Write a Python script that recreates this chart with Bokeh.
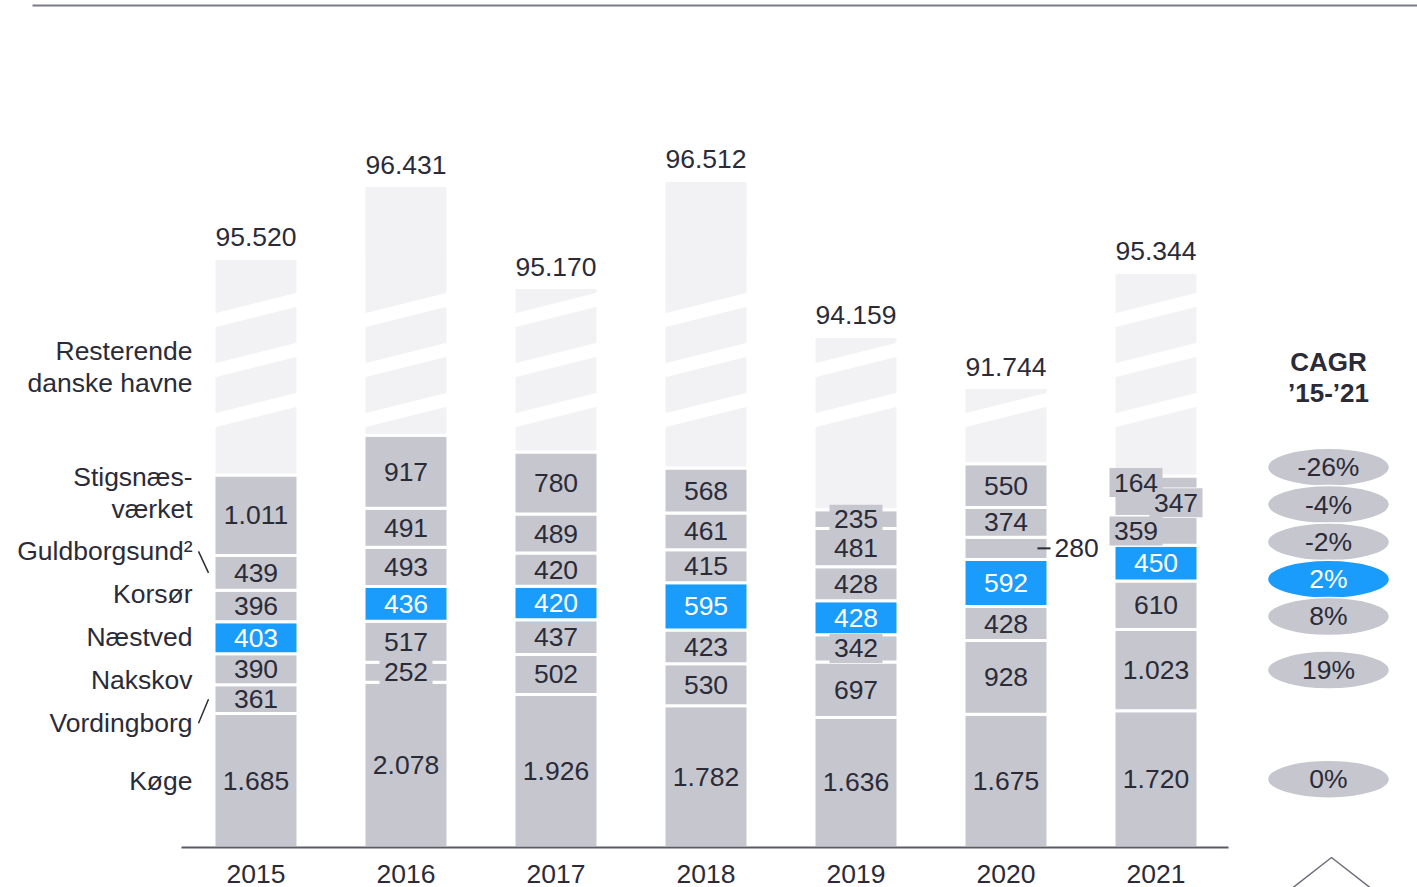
import numpy as np
from bokeh.plotting import figure
from bokeh.models import Range1d, ColumnDataSource
from bokeh.core.properties import value
from bokeh.embed import file_html
from bokeh.resources import INLINE

# ---------------- data ----------------
years = ["2015", "2016", "2017", "2018", "2019", "2020", "2021"]
totals = [95520, 96431, 95170, 96512, 94159, 91744, 95344]
koege = [1685, 2078, 1926, 1782, 1636, 1675, 1720]
vordingborg = [361, 252, 502, 530, 697, 928, 1023]
nakskov = [390, 517, 437, 423, 342, 428, 610]
naestved = [403, 436, 420, 595, 428, 592, 450]
korsoer = [396, 493, 420, 415, 428, 280, 359]
guldborgsund = [439, 491, 489, 461, 481, 374, 347]
stigsnaes = [1011, 917, 780, 568, 235, 550, 164]
# "Resterende danske havne" segment height as drawn after the axis break
rest_shown = [2724, 3143, 2070, 3616, 2181, 959, 2560]

row_labels = ["Køge", "Vordingborg", "Nakskov", "Næstved", "Korsør",
              "Guldborgsund²", "Stigsnæs-\nværket", "Resterende\ndanske havne"]
series = [koege, vordingborg, nakskov, naestved, korsoer, guldborgsund, stigsnaes]
highlight = 3  # Næstved

# ---------------- style / layout ----------------
W, H = 1417, 887
K = 0.0795          # px per unit
SLOT = 150.0        # px per bar slot
X0PX = 255.5        # px centre of first bar
BASE_PX = 847
FONT = value("Liberation Sans")
FS = value("26.5px")
DARK = "#2b2b38"
GRAY = "#c5c6ce"
LIGHT = "#f2f2f4"
BLUE = "#1a9cfd"
BAR_W = 84 / SLOT

x_start = -X0PX / SLOT
x_end = x_start + W / SLOT
y_start = -(H - BASE_PX) / K
y_end = y_start + H / K


def X(px):
    return x_start + px / SLOT


def Y(py):
    return y_start + (H - py) / K


p = figure(width=W, height=H, x_range=Range1d(x_start, x_end), y_range=Range1d(y_start, y_end),
           output_backend="svg", toolbar_location=None, min_border=0,
           x_axis_type=None, y_axis_type=None, outline_line_color=None,
           background_fill_color="white", border_fill_color="white")
p.grid.visible = False

n = len(years)
xs = list(range(n))

# ---------------- stacked bars ----------------
bx, bb, bt, bc = [], [], [], []
seg_info = []  # (i, row, bottom, v)
for i in range(n):
    cum = 0
    for r, s in enumerate(series):
        v = s[i]
        bx.append(i); bb.append(cum); bt.append(cum + v)
        bc.append(BLUE if r == highlight else GRAY)
        seg_info.append((i, r, cum, v))
        cum += v
    bx.append(i); bb.append(cum); bt.append(cum + rest_shown[i]); bc.append(LIGHT)
p.vbar(x="x", bottom="b", top="t", width=BAR_W, fill_color="c", line_color="white", line_width=3,
       source=ColumnDataSource(dict(x=bx, b=bb, t=bt, c=bc)))
tops = [sum(s[i] for s in series) + rest_shown[i] for i in range(n)]

# break stripes on the light segment
sxs, sys_ = [], []
for i in range(n):
    cx = X0PX + SLOT * i
    xl, xr = cx - 42, cx + 42
    for py in (313, 363, 413):
        sxs.append([X(xl), X(xr), X(xr), X(xl)])
        sys_.append([Y(py), Y(py - 21), Y(py - 7), Y(py + 14)])
p.patches(sxs, sys_, fill_color="white", line_color=None)

# ---------------- segment labels ----------------
overrides = {(5, 4): "outside", (6, 6): "left", (6, 5): "right", (6, 4): "left"}
lx, ly, lt, lc = [], [], [], []
boxx, boxy = [], []
ox, oy, ot = [], [], []
dash_x, dash_y = [], []
for (i, r, b, v) in seg_info:
    txt = f"{v:,}".replace(",", ".")
    yc = b + v / 2
    mode = overrides.get((i, r), "center")
    if mode == "outside":
        right = X0PX + SLOT * i + 40.5
        dash_x.append([X(right - 9), X(right + 4)]); dash_y.append([yc, yc])
        ox.append(X(right + 8)); oy.append(yc); ot.append(txt)
        continue
    dx = {"center": 0, "left": -20, "right": 20}[mode]
    x = X(X0PX + SLOT * i + dx)
    if v * K < 28 or mode != "center":
        boxx.append(x); boxy.append(yc)
    lx.append(x); ly.append(yc); lt.append(txt)
    lc.append("white" if r == highlight else DARK)

p.rect(boxx, boxy, width=53 / SLOT, height=29 / K, fill_color=GRAY, line_color=None)
p.text(x="x", y="y", text="t", text_color="c", source=ColumnDataSource(dict(x=lx, y=ly, t=lt, c=lc)),
       text_font=FONT, text_font_size=FS, text_align="center", text_baseline="middle")
p.multi_line(dash_x, dash_y, line_color=DARK, line_width=2)
p.text(ox, oy, text=ot, text_font=FONT, text_font_size=FS, text_color=DARK,
       text_align="left", text_baseline="middle")

# totals above bars
p.text(xs, tops, text=[f"{t:,}".replace(",", ".") for t in totals], text_font=FONT, text_font_size=FS,
       text_color=DARK, text_align="center", text_baseline="bottom", y_offset=-12)

# years
p.text(xs, [Y(873)] * n, text=years, text_font=FONT, text_font_size=FS, text_color=DARK,
       text_align="center", text_baseline="middle")

# baseline + top rule
p.line([X(181), X(1228)], [0, 0], line_color="#5a5a66", line_width=2)
p.line([X(32), X(W)], [Y(5), Y(5)], line_color="#7b7b88", line_width=2)


# ---------------- de-overlap helper ----------------
def declutter(targets, heights):
    order = list(np.argsort(targets))

    def place(cl):
        rel = [0.0]
        for a, b in zip(cl[:-1], cl[1:]):
            rel.append(rel[-1] + (heights[a] + heights[b]) / 2)
        shift = np.mean([targets[k] - r for k, r in zip(cl, rel)])
        return [shift + r for r in rel]

    clusters = []
    for idx in order:
        clusters.append([idx])
        while len(clusters) > 1:
            pa, pb = place(clusters[-2]), place(clusters[-1])
            a, b = clusters[-2][-1], clusters[-1][0]
            if pa[-1] + heights[a] / 2 > pb[0] - heights[b] / 2:
                last = clusters.pop()
                clusters[-1] = clusters[-1] + last
            else:
                break
    pos = [0.0] * len(targets)
    for cl in clusters:
        for k, v in zip(cl, place(cl)):
            pos[k] = v
    return pos


# ---------------- row labels (aligned with 2015 bar) ----------------
t15, cum = [], 0
for s in series:
    t15.append(cum + s[0] / 2); cum += s[0]
t15.append(cum + rest_shown[0] / 2)
nl = [len(lbl.split("\n")) for lbl in row_labels]
hts = [(43 + 31 * (m - 1)) / K for m in nl]
lpos = declutter(t15, hts)
rx, ry, rt = [], [], []
for k, lbl in enumerate(row_labels):
    lines = lbl.split("\n")
    moved = abs(lpos[k] - t15[k]) * K > 2
    yk = lpos[k] + (3.5 / K if moved else 0)
    for j, line in enumerate(lines):
        rx.append(X(192)); ry.append(yk - (j - (len(lines) - 1) / 2) * 32 / K); rt.append(line)
    if abs(lpos[k] - t15[k]) * K > 43 / 2 - 5 and len(lines) == 1:
        p.line([X(198), X(208)], [yk, t15[k]], line_color=DARK, line_width=1.5)
p.text(rx, ry, text=rt, text_font=FONT, text_font_size=FS, text_color=DARK,
       text_align="right", text_baseline="middle")

# ---------------- CAGR column ----------------
span = len(years) - 1
cagr = [(s[-1] / s[0]) ** (1 / span) - 1 for s in series]
t21, cum = [], 0
for s in series:
    t21.append(cum + s[-1] / 2); cum += s[-1]
epos = declutter(t21, [37.3 / K] * len(series))
epos = [e - 5 / K if abs(e - t) * K > 2 else e for e, t in zip(epos, t21)]
eorder = sorted(range(len(series)), key=lambda k: -epos[k])
ex = [X(1328)] * len(series)
p.ellipse([ex[k] for k in eorder], [epos[k] for k in eorder], width=122 / SLOT, height=38 / K,
          fill_color=[BLUE if k == highlight else GRAY for k in eorder], line_color="white", line_width=1.5)
p.text([ex[k] for k in eorder], [epos[k] for k in eorder],
       text=[f"{round(cagr[k] * 100):d}%" for k in eorder],
       text_color=["white" if k == highlight else DARK for k in eorder],
       text_font=FONT, text_font_size=FS, text_align="center", text_baseline="middle")
p.text([X(1328), X(1328)], [Y(361), Y(392)], text=["CAGR", "’15-’21"], text_font=FONT,
       text_font_size=value("26px"), text_font_style="bold", text_color=DARK, text_align="center",
       text_baseline="middle")
p.line([X(1290), X(1331), X(1372)], [Y(889), Y(857), Y(889)], line_color="#6e6e7a", line_width=1.5)

open("out.html", "w").write(file_html(p, INLINE))
